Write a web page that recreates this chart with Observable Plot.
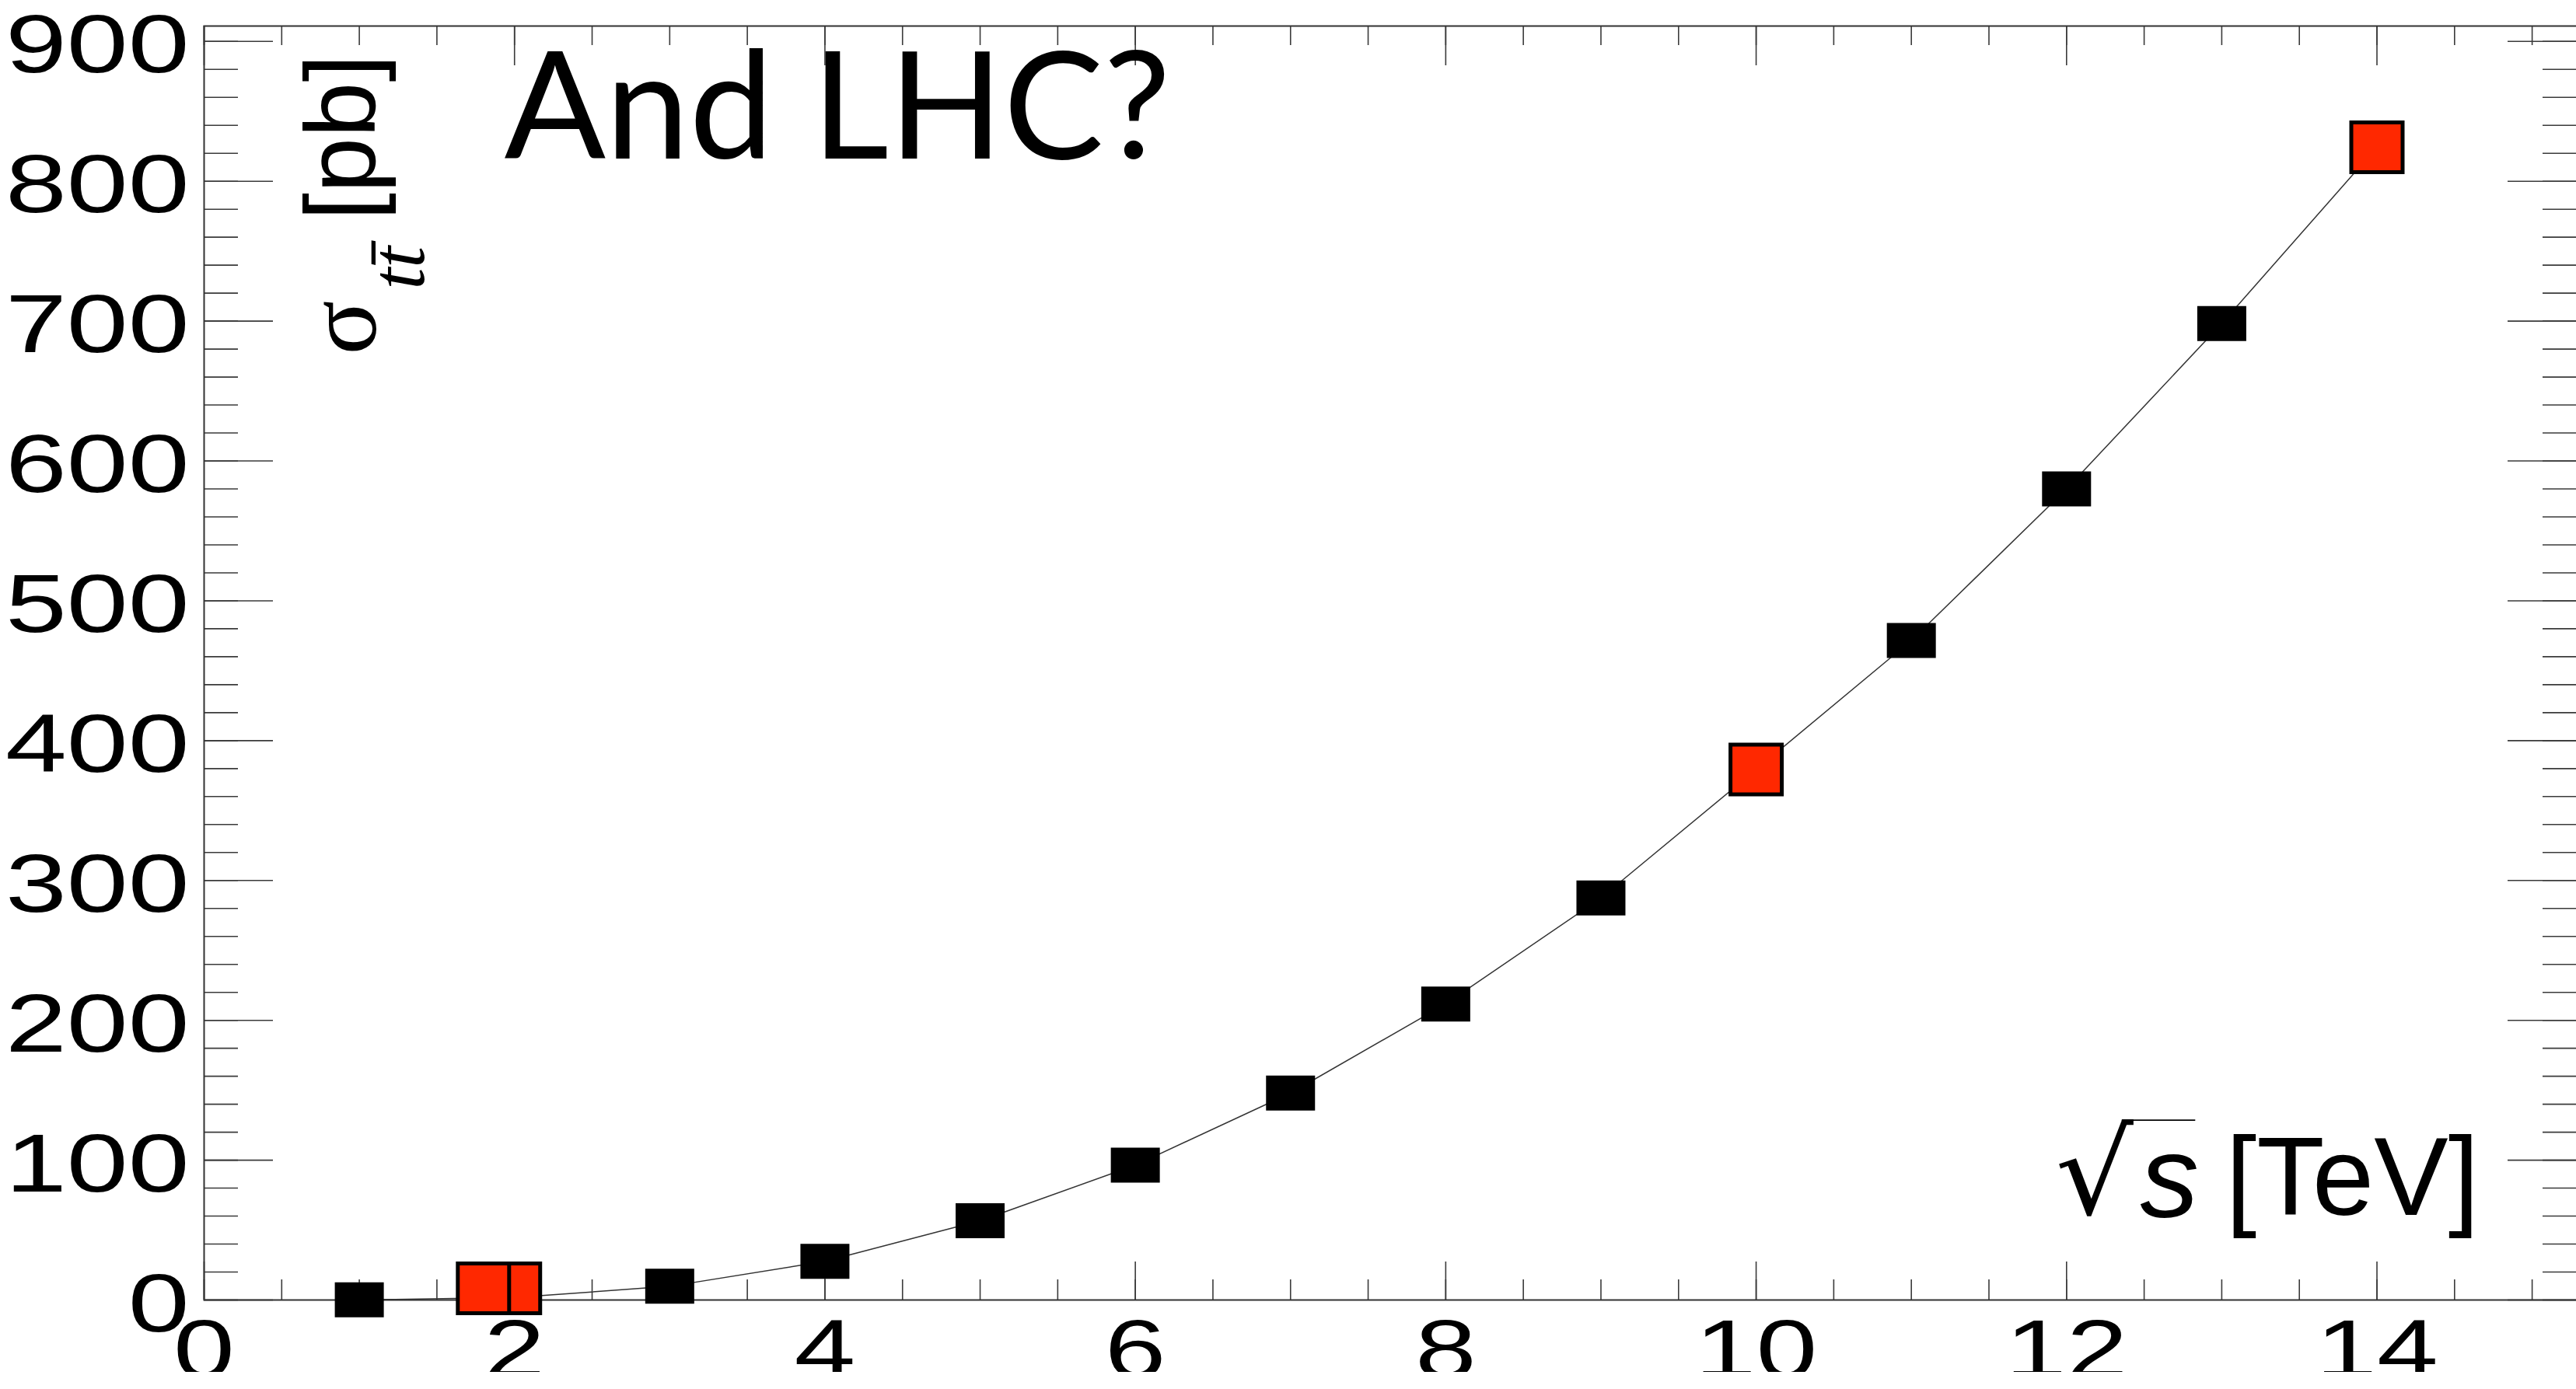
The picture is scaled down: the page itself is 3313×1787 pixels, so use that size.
<!DOCTYPE html>
<html>
<head>
<meta charset="utf-8">
<script src="https://cdn.jsdelivr.net/npm/d3@7"></script>
<script src="https://cdn.jsdelivr.net/npm/@observablehq/plot@0.6"></script>
<style>
  html, body { margin: 0; padding: 0; background: #fff; overflow: hidden; }
</style>
</head>
<body>
<div id="chart"></div>
<script>
// Top-pair production cross section versus collision energy.
// pp prediction at integer sqrt(s) values (TeV) and cross section (pb)
const energyPP = [1, 2, 3, 4, 5, 6, 7, 8, 9, 10, 11, 12, 13, 14];
const sigmaPP = [0.1, 1.75, 9.8, 27.6, 56.7, 96.4, 148.0, 211.7, 287.5, 379.3, 471.6, 580.0, 698.2, 824.3];

// Highlighted machines: Tevatron runs and the LHC design energies
const energyHighlight = [2.0, 1.8, 10, 14];
const sigmaHighlight = [8.3, 8.3, 379.3, 824.3];

// Axis tick labels
const xTickValues = [0, 2, 4, 6, 8, 10, 12, 14];
const yTickValues = [0, 100, 200, 300, 400, 500, 600, 700, 800, 900];

const pp = energyPP.map((e, i) => ({energy: e, sigma: sigmaPP[i]}));
const highlight = energyHighlight.map((e, i) => ({energy: e, sigma: sigmaHighlight[i]}));

const xMinor = d3.range(0, 15.5, 0.5);
const yMinor = d3.range(0, 920, 20);

const W = 3320, H = 1765;
const frameLeft = 262, frameRight = 3314, frameTop = 33, frameBottom = 1672;
const frameW = frameRight - frameLeft, frameH = frameBottom - frameTop;

// Rectangular markers (wide black boxes, square outlined highlights)
const wideBox = {draw(ctx) { ctx.rect(-31.5, -22.5, 63, 45); }};
const squareBox = {draw(ctx) { ctx.rect(-33, -32, 66, 64); }};

const tickStroke = {stroke: "#3a3a3a", strokeWidth: 1.6};
// Distinct family strings let some texts be found again after rendering.
const TICK_FAMILY = "'Liberation Sans', Arimo, sans-serif";
const RADICAL_FAMILY = "'DejaVu Sans', sans-serif";
const BAR_FAMILY = "'DejaVu Sans', Verdana, sans-serif";
const tickFont = {fontFamily: TICK_FAMILY, fontSize: 105, fill: "#000"};

const svg = Plot.plot({
  width: W,
  height: H,
  marginLeft: frameLeft,
  marginRight: W - frameRight,
  marginTop: frameTop,
  marginBottom: H - frameBottom,
  style: {maxWidth: "none", overflow: "hidden", background: "#fff"},
  x: {domain: [0, 15.29], axis: null},
  y: {domain: [0, 911.0], axis: null},
  marks: [
    // bottom and top ticks
    Plot.ruleX(xMinor, {x: d => d, insetTop: frameH - 26, ...tickStroke}),
    Plot.ruleX(xTickValues, {x: d => d, insetTop: frameH - 49, ...tickStroke}),
    Plot.ruleX(xMinor, {x: d => d, insetBottom: frameH - 25, ...tickStroke}),
    Plot.ruleX(xTickValues, {x: d => d, insetBottom: frameH - 51, ...tickStroke}),
    // left and right ticks
    Plot.ruleY(yMinor, {y: d => d, insetRight: frameW - 44, ...tickStroke}),
    Plot.ruleY(yTickValues, {y: d => d, insetRight: frameW - 89, ...tickStroke}),
    Plot.ruleY(yMinor, {y: d => d, insetLeft: frameW - 44, ...tickStroke}),
    Plot.ruleY(yTickValues, {y: d => d, insetLeft: frameW - 89, ...tickStroke}),
    Plot.frame({stroke: "#333", strokeWidth: 2}),

    // tick labels
    Plot.text(yTickValues, {
      y: d => d, text: d => String(d), frameAnchor: "left",
      textAnchor: "end", lineAnchor: "top", dx: -19, dy: -34.5,
      ...tickFont
    }),
    Plot.text(xTickValues, {
      x: d => d, text: d => String(d), frameAnchor: "bottom",
      textAnchor: "middle", lineAnchor: "top", dy: 25,
      ...tickFont
    }),

    // curve and points
    Plot.line(pp, {x: "energy", y: "sigma", stroke: "#333", strokeWidth: 1.5}),
    Plot.dot(pp, {x: "energy", y: "sigma", symbol: wideBox, fill: "#000", stroke: "none"}),
    Plot.dot(highlight, {x: "energy", y: "sigma", symbol: squareBox, fill: "#ff2800", stroke: "#000", strokeWidth: 5}),

    // y-axis title: sigma_{t tbar} [pb]
    Plot.text(["σ"], {
      frameAnchor: "top-left", dx: 220, dy: 423, rotate: -90,
      textAnchor: "start", lineAnchor: "bottom",
      fontFamily: "Liberation Serif", fontSize: 130
    }),
    Plot.text(["tt\u0304"], {
      frameAnchor: "top-left", dx: 282, dy: 339, rotate: -90,
      textAnchor: "start", lineAnchor: "bottom",
      fontFamily: "Liberation Serif", fontStyle: "italic", fontSize: 100
    }),
    Plot.text(["[pb]"], {
      frameAnchor: "top-left", dx: 219, dy: 250, rotate: -90,
      textAnchor: "start", lineAnchor: "bottom",
      fontFamily: "Liberation Sans", fontSize: 128
    }),

    // title
    Plot.text(["And LHC?"], {
      frameAnchor: "top-left", dx: 386, dy: 170,
      textAnchor: "start", lineAnchor: "bottom",
      fontFamily: "Lato", fontSize: 193
    }),

    // x-axis title: sqrt(s) [TeV]
    Plot.text(["√"], {
      frameAnchor: "top-left", dx: 2381, dy: 1528,
      textAnchor: "start", lineAnchor: "bottom",
      fontFamily: RADICAL_FAMILY, fontSize: 150
    }),
    Plot.text(["‾"], {
      frameAnchor: "top-left", dx: 2468, dy: 1408,
      textAnchor: "start", lineAnchor: "top",
      fontFamily: BAR_FAMILY, fontSize: 26
    }),
    Plot.text(["s"], {
      frameAnchor: "top-left", dx: 2490, dy: 1532,
      textAnchor: "start", lineAnchor: "bottom",
      fontFamily: "Liberation Sans", fontStyle: "italic", fontSize: 151
    }),
    Plot.text(["[TeV]"], {
      frameAnchor: "top-left", dx: 2600, dy: 1529,
      textAnchor: "start", lineAnchor: "bottom",
      fontFamily: "Liberation Sans", fontSize: 143
    })
  ]
});

// Stretch a group's texts about their own anchor point.
function stretch(family, sx, sy) {
  d3.select(svg).selectAll("g").filter(function () {
    return this.getAttribute("font-family") === family;
  }).selectAll("text").each(function () {
    const t = this.getAttribute("transform") || "";
    const x = +this.getAttribute("x") || 0;
    this.setAttribute("transform", `${t} translate(${x},0) scale(${sx},${sy}) translate(${-x},0)`);
  });
}

// Tick numerals use a wide, extended face.
stretch(TICK_FAMILY, 1.35, 1);
// Radical sign; its bar runs on over the radicand.
stretch(RADICAL_FAMILY, 1.05, 1.0);
stretch(BAR_FAMILY, 7.0, 1);

document.getElementById("chart").appendChild(svg);
</script>
</body>
</html>
